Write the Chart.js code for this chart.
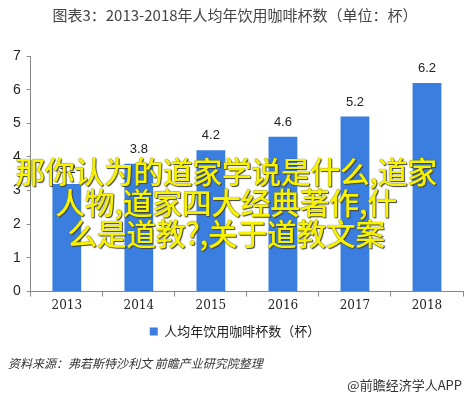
<!DOCTYPE html>
<html><head><meta charset="utf-8">
<script src="https://cdn.jsdelivr.net/npm/chart.js@4/dist/chart.umd.min.js"></script>
<style>
html,body{margin:0;padding:0;background:#fff;}
#wrap{position:relative;width:464px;height:396px;overflow:hidden;}
canvas{position:absolute;left:0;top:0;}
.src{position:absolute;left:8px;top:354px;font:italic 12px "Noto Sans CJK SC",sans-serif;color:#333;}
.app{position:absolute;right:2px;top:375px;font:13px "Noto Sans CJK SC",sans-serif;color:#333;}
.ov{position:absolute;left:0;top:155px;width:452px;text-align:center;font:500 30px/31px "Noto Sans CJK SC",sans-serif;color:#f7f200;text-shadow:0 0 1px #333,1px 1px 1px #444;letter-spacing:-0.5px;}
</style></head>
<body><div id="wrap"><canvas id="c" width="464" height="396"></canvas>
<div class="src">资料来源：弗若斯特沙利文 前瞻产业研究院整理</div>
<div class="app">@前瞻经济学人APP</div>
<div class="ov">那你认为的道家学说是什么,道家<br>人物,道家四大经典著作,什<br>么是道教?,关于道教文案</div>
</div>
<script>
const titleText = "图表3：2013-2018年人均年饮用咖啡杯数（单位：杯）";
const categories = ["2013","2014","2015","2016","2017","2018"];
const seriesName = "人均年饮用咖啡杯数（杯）";
const values = [3.2, 3.8, 4.2, 4.6, 5.2, 6.2];
const yTicks = [0,1,2,3,4,5,6,7];

const labelPlugin = {
  id:'barLabels',
  afterDatasetsDraw(chart){
    const ctx = chart.ctx;
    const meta = chart.getDatasetMeta(0);
    ctx.save();
    ctx.font = '13px "Liberation Sans", Arial, sans-serif';
    ctx.fillStyle = '#222';
    ctx.textAlign = 'center';
    ctx.textBaseline = 'bottom';
    meta.data.forEach((bar,i)=>{
      ctx.fillText(String(values[i].toFixed(1)), bar.x, bar.y - 8);
    });
    ctx.restore();
  }
};

new Chart(document.getElementById('c'), {
  type:'bar',
  data:{labels:categories, datasets:[{label:seriesName, data:values, backgroundColor:'#3a7fe0', barPercentage:0.4, categoryPercentage:1}]},
  options:{
    responsive:false, animation:false,
    layout:{padding:{left:7,right:1,top:0,bottom:48}},
    plugins:{
      title:{display:true,text:titleText,font:{size:15,family:'"Noto Sans CJK SC", sans-serif',weight:'normal'},color:'#444',padding:{top:6,bottom:32}},
      legend:{position:'bottom',labels:{boxWidth:8,boxHeight:8,font:{size:13,family:'"Noto Sans CJK SC", sans-serif'},color:'#222',padding:10}},
      tooltip:{enabled:false}
    },
    scales:{
      x:{grid:{drawOnChartArea:false,drawTicks:true,tickLength:5,color:'#888'},border:{color:'#888'},
         ticks:{font:{size:12,family:'"DejaVu Serif", serif'},color:'#222',padding:2}},
      y:{min:0,max:7,afterBuildTicks(ax){ax.ticks=yTicks.map(v=>({value:v}));},
         grid:{drawOnChartArea:false,drawTicks:true,tickLength:4,color:'#888'},border:{color:'#888'},
         ticks:{font:{size:14,family:'"Liberation Sans", Arial, sans-serif'},color:'#222',padding:6}}
    }
  },
  plugins:[labelPlugin]
});
</script></body></html>
